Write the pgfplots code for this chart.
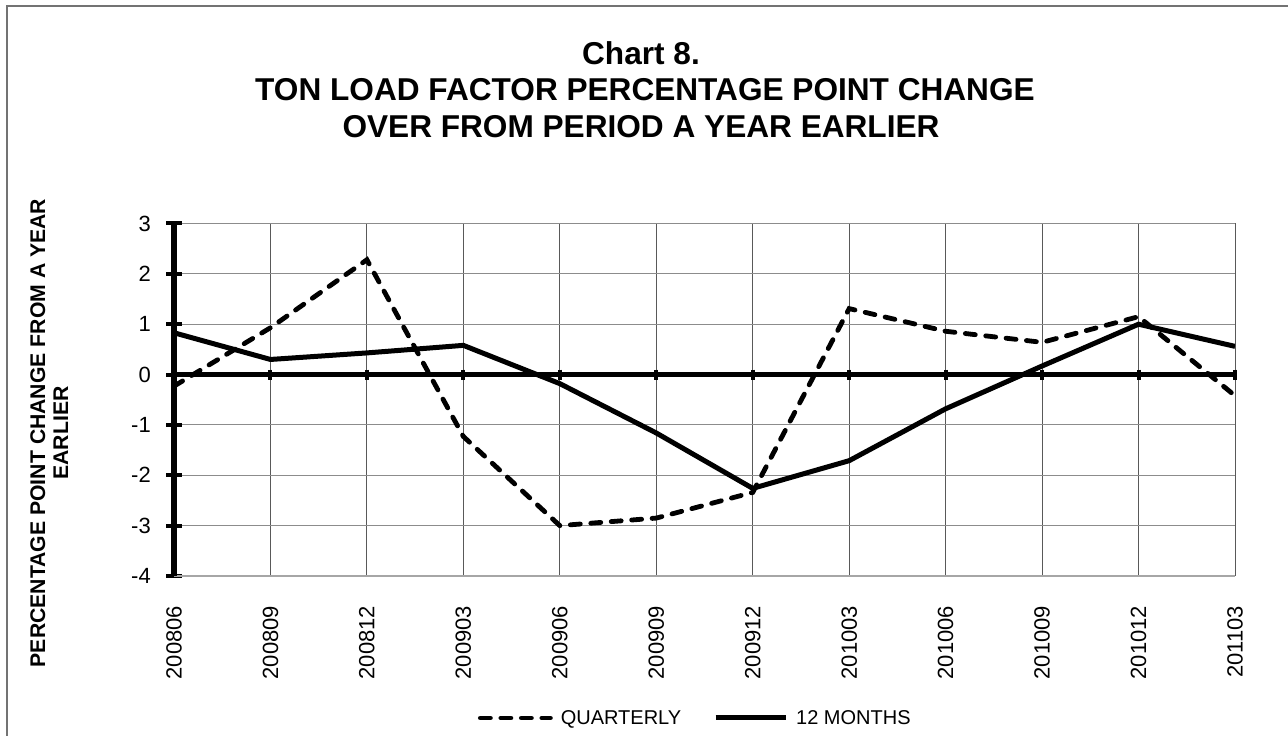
\documentclass[border=0pt]{standalone}
\usepackage{fontspec}
\setmainfont{Liberation Sans}
\usepackage{pgfplots}
\pgfplotsset{compat=1.18}
\begin{document}
\begin{tikzpicture}[x=1bp,y=1bp]
\useasboundingbox (0,0) rectangle (1288,736);
\draw[black!55, line width=1.2bp] (7,-10) -- (7,730) -- (1300,730);
\node[anchor=base, inner sep=0pt, font=\fontsize{31.6bp}{38bp}\selectfont\bfseries] at (641,671) {Chart 8.};
\node[anchor=base, inner sep=0pt, font=\fontsize{31.6bp}{38bp}\selectfont\bfseries] at (645,635.3) {TON LOAD FACTOR PERCENTAGE POINT CHANGE};
\node[anchor=base, inner sep=0pt, font=\fontsize{31.6bp}{38bp}\selectfont\bfseries] at (641,598) {OVER FROM PERIOD A YEAR EARLIER};
\node[anchor=base, rotate=90, inner sep=0pt, font=\fontsize{21.2bp}{24bp}\selectfont\bfseries] at (45,303) {PERCENTAGE POINT CHANGE FROM A YEAR};
\node[anchor=base, rotate=90, inner sep=0pt, font=\fontsize{21.2bp}{24bp}\selectfont\bfseries] at (68,303) {EARLIER};
\begin{axis}[
  at={(174bp,160bp)}, anchor=south west,
  scale only axis, width=1061bp, height=352.5bp,
  xmin=0, xmax=11, ymin=-4, ymax=3,
  xtick={0,...,11},
  xticklabels={200806,200809,200812,200903,200906,200909,200912,201003,201006,201009,201012,201103},
  ytick={-4,...,3},
  axis x line*=bottom, axis y line*=left,
  x axis line style={black!35, line width=1.2bp, -},
  y axis line style={black, line width=5.5bp, -},
  xtick style={draw=none},
  ytick style={black, line width=4bp},
  major tick length=16bp, tick align=center,
  grid=major,
  major x grid style={black!65, line width=1bp},
  major y grid style={black!45, line width=1bp},
  /pgf/number format/assume math mode=true,
  tick label style={font=\fontsize{22bp}{22bp}\selectfont},
  xticklabel style={rotate=90, anchor=east, inner sep=0pt},
  yticklabel style={anchor=east, inner sep=0pt},
  xticklabel shift=21.7bp,
  yticklabel shift=15bp,
  legend style={at={(axis description cs:0.2865,-0.4028)}, anchor=west, draw=none, fill=none,
    inner sep=0pt, outer sep=0pt, legend columns=2,
    nodes={inner sep=0pt, font=\fontsize{20bp}{20bp}\selectfont},
    /tikz/every odd column/.append style={column sep=8bp},
    /tikz/every even column/.append style={column sep=32bp}},
  legend image code/.code={\draw[#1] (0bp,0bp) -- (70bp,0bp);},
]
\addplot[forget plot, black, line width=5bp, mark=|, mark size=5bp, mark options={line width=4bp, solid}]
  coordinates {(0,0)(1,0)(2,0)(3,0)(4,0)(5,0)(6,0)(7,0)(8,0)(9,0)(10,0)(11,0)};
\addplot[black, line width=4.8bp, line cap=round, dash pattern=on 10bp off 10.5bp]
  coordinates {(0,-0.23)(1,0.93)(2,2.28)(3,-1.23)(4,-3.0)(5,-2.85)(6,-2.34)(7,1.31)(8,0.86)(9,0.64)(10,1.15)(11,-0.42)};
\addlegendentry{QUARTERLY}
\addplot[black, line width=5bp, solid]
  coordinates {(0,0.83)(1,0.30)(2,0.43)(3,0.58)(4,-0.18)(5,-1.16)(6,-2.26)(7,-1.71)(8,-0.68)(9,0.17)(10,1.0)(11,0.56)};
\addlegendentry{12 MONTHS}
\end{axis}
\end{tikzpicture}
\end{document}
